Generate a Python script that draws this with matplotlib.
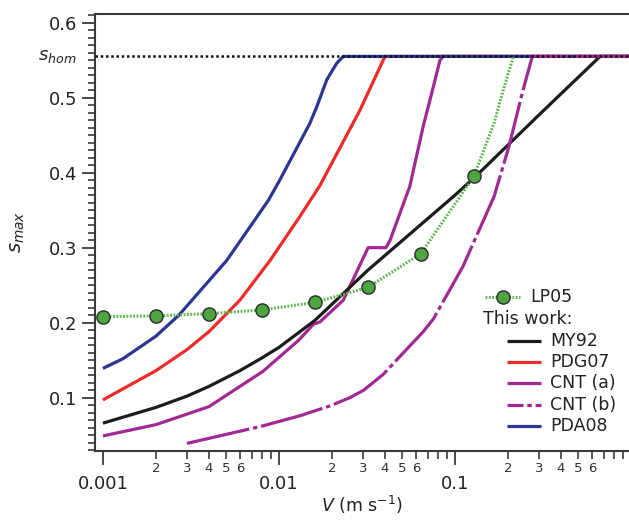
import numpy as np
import matplotlib
matplotlib.use("Agg")
import matplotlib.pyplot as plt
from matplotlib.ticker import FixedLocator, FuncFormatter, MultipleLocator
from matplotlib.lines import Line2D
import matplotlib.transforms as mtransforms

plt.rcParams['font.family'] = ['DejaVu Sans']
plt.rcParams['mathtext.fontset'] = 'dejavusans'

# --- data ---
s_hom = 0.555

lp05_pts_v = [0.001, 0.002, 0.004, 0.008, 0.016, 0.032, 0.064, 0.128]
lp05_pts_s = [0.208, 0.209, 0.212, 0.217, 0.227, 0.247, 0.292, 0.395]
lp05_tail_v = [0.1666, 0.188, 0.2147]
lp05_tail_s = [0.466, 0.510, 0.555]

my92_v = [0.001, 0.002, 0.003, 0.004, 0.006, 0.008, 0.01, 0.016, 0.032, 0.1, 0.131, 0.3, 0.667, 1.0]
my92_s = [0.066, 0.087, 0.102, 0.115, 0.136, 0.153, 0.167, 0.203, 0.270, 0.370, 0.395, 0.477, 0.555, 0.555]

pdg07_v = [0.001, 0.002, 0.003, 0.004, 0.006, 0.0089, 0.0131, 0.0171, 0.0288, 0.040, 1.0]
pdg07_s = [0.097, 0.136, 0.164, 0.188, 0.230, 0.283, 0.341, 0.383, 0.483, 0.555, 0.555]

cnta_v = [0.001, 0.002, 0.004, 0.0081, 0.013, 0.0157, 0.0171, 0.0232, 0.0321, 0.0405,
          0.0428, 0.0554, 0.066, 0.0721, 0.0822, 0.0858, 1.0]
cnta_s = [0.049, 0.064, 0.088, 0.135, 0.177, 0.198, 0.201, 0.230, 0.300, 0.300,
          0.310, 0.382, 0.462, 0.497, 0.550, 0.555, 0.555]

cntb_v = [0.003, 0.008, 0.0132, 0.0195, 0.0253, 0.0303, 0.0391, 0.0487, 0.066, 0.0754,
          0.111, 0.1666, 0.2026, 0.2434, 0.275, 1.0]
cntb_s = [0.039, 0.062, 0.076, 0.089, 0.100, 0.110, 0.131, 0.155, 0.188, 0.205,
          0.275, 0.368, 0.435, 0.510, 0.555, 0.555]

pda08_v = [0.001, 0.0013, 0.002, 0.0027, 0.00505, 0.0087, 0.0101, 0.015,
           0.0164, 0.0187, 0.0213, 0.0232, 1.0]
pda08_s = [0.139, 0.152, 0.182, 0.210, 0.283, 0.363, 0.390, 0.466,
           0.488, 0.524, 0.546, 0.555, 0.555]

c_black = '#1c1c1c'
c_red = '#ee2b2b'
c_purple = '#a02a92'
c_blue = '#2c3594'
c_green = '#4ea640'
c_green_line = '#62b552'

fig = plt.figure(figsize=(6.29, 5.21), dpi=100)
ax = fig.add_axes([0.151, 0.1344, 0.849, 0.8388])

lw = 2.3
ax.plot(pdg07_v, pdg07_s, color=c_red, lw=lw, solid_capstyle='butt')
ax.plot(cnta_v, cnta_s, color=c_purple, lw=lw, solid_capstyle='butt')
ax.plot(my92_v, my92_s, color=c_black, lw=lw, solid_capstyle='butt')
ax.plot(pda08_v, pda08_s, color=c_blue, lw=lw, solid_capstyle='butt')
ax.plot(cntb_v, cntb_s, color=c_purple, lw=lw, dashes=(20, 1.2, 1.4, 1.2), dash_capstyle='butt')

# homogeneous freezing limit
ax.axhline(s_hom, color='#111111', lw=1.8, dashes=(1.0, 1.1), zorder=5)

# LP05 curve + points
ax.plot(lp05_pts_v + lp05_tail_v, lp05_pts_s + lp05_tail_s, color=c_green_line,
        lw=2.2, dashes=(0.6, 0.5), zorder=6)
ax.plot(lp05_pts_v, lp05_pts_s, 'o', color=c_green, ms=9.5, mec='#2a2a2a', mew=1.0, zorder=7)

ax.set_xscale('log')
ax.set_xlim(0.000901, 0.974)
ax.set_ylim(0.0289, 0.6116)

# axes styling
for side in ['left', 'bottom', 'top']:
    ax.spines[side].set_color('#3a3a3a')
    ax.spines[side].set_linewidth(1.5)
ax.spines['right'].set_visible(False)

ax.xaxis.set_major_locator(FixedLocator([0.001, 0.01, 0.1]))
ax.xaxis.set_major_formatter(FuncFormatter(lambda v, p: '%g' % v))
minor_x = [m * d for d in [0.001, 0.01, 0.1] for m in range(2, 10)]
ax.xaxis.set_minor_locator(FixedLocator(minor_x))

def minor_lab(v, p):
    m = v / 10 ** np.floor(np.log10(v) + 1e-9)
    m = int(round(m))
    return str(m) if m <= 6 else ''

ax.xaxis.set_minor_formatter(FuncFormatter(minor_lab))
ax.tick_params(axis='x', which='major', length=10, width=1.3, pad=7, labelsize=13, colors='#3a3a3a', labelcolor='#222222')
ax.tick_params(axis='x', which='minor', length=5.5, width=1.2, pad=2.5, labelsize=9.5, colors='#3a3a3a', labelcolor='#333333')

ax.yaxis.set_major_locator(MultipleLocator(0.1))
ax.yaxis.set_minor_locator(MultipleLocator(0.01))
ax.yaxis.set_major_formatter(FuncFormatter(lambda v, p: '%.1f' % v))
ax.tick_params(axis='y', which='major', length=9.5, width=1.3, pad=3, labelsize=13, colors='#3a3a3a', labelcolor='#222222')
ax.tick_params(axis='y', which='minor', length=5, width=1.2, colors='#3a3a3a')

trans = mtransforms.blended_transform_factory(ax.transAxes, ax.transData)
ax.text(-0.035, s_hom, '$s_{hom}$', transform=trans, ha='right', va='center', fontsize=13, color='#222222')

ax.set_xlabel('$V$ (m s$^{-1}$)', fontsize=12.5, color='#222222', labelpad=1)
ax.set_ylabel('$s_{max}$', fontsize=14, color='#222222', labelpad=16)

# legend drawn by hand (the "This work:" header breaks the usual layout)
leg_fs = 12.5
ax.add_line(Line2D([0.730, 0.796], [0.353, 0.353], transform=ax.transAxes,
                   color=c_green_line, lw=2.2, dashes=(0.6, 0.5)))
ax.add_line(Line2D([0.764], [0.353], transform=ax.transAxes, marker='o', color=c_green,
                   ms=9.5, mec='#2a2a2a', mew=1.0, ls='none'))
ax.text(0.815, 0.353, 'LP05', transform=ax.transAxes, va='center', fontsize=leg_fs, color='#222222')
ax.text(0.727, 0.301, 'This work:', transform=ax.transAxes, va='center', fontsize=leg_fs, color='#222222')

entries = [('MY92', c_black, None), ('PDG07', c_red, None), ('CNT (a)', c_purple, None),
           ('CNT (b)', c_purple, (5, 1.2, 1.4, 1.2)), ('PDA08', c_blue, None)]
rows_y = [0.2517, 0.203, 0.155, 0.105, 0.058]
for (lab, col, dsh), yy in zip(entries, rows_y):
    ln = Line2D([0.7715, 0.835], [yy, yy], transform=ax.transAxes, color=col, lw=lw,
                solid_capstyle='butt', dash_capstyle='butt')
    if dsh is not None:
        ln.set_dashes(dsh)
    ax.add_line(ln)
    ax.text(0.853, yy, lab, transform=ax.transAxes, va='center', fontsize=leg_fs, color='#222222')

fig.savefig('out.png', dpi=100)
